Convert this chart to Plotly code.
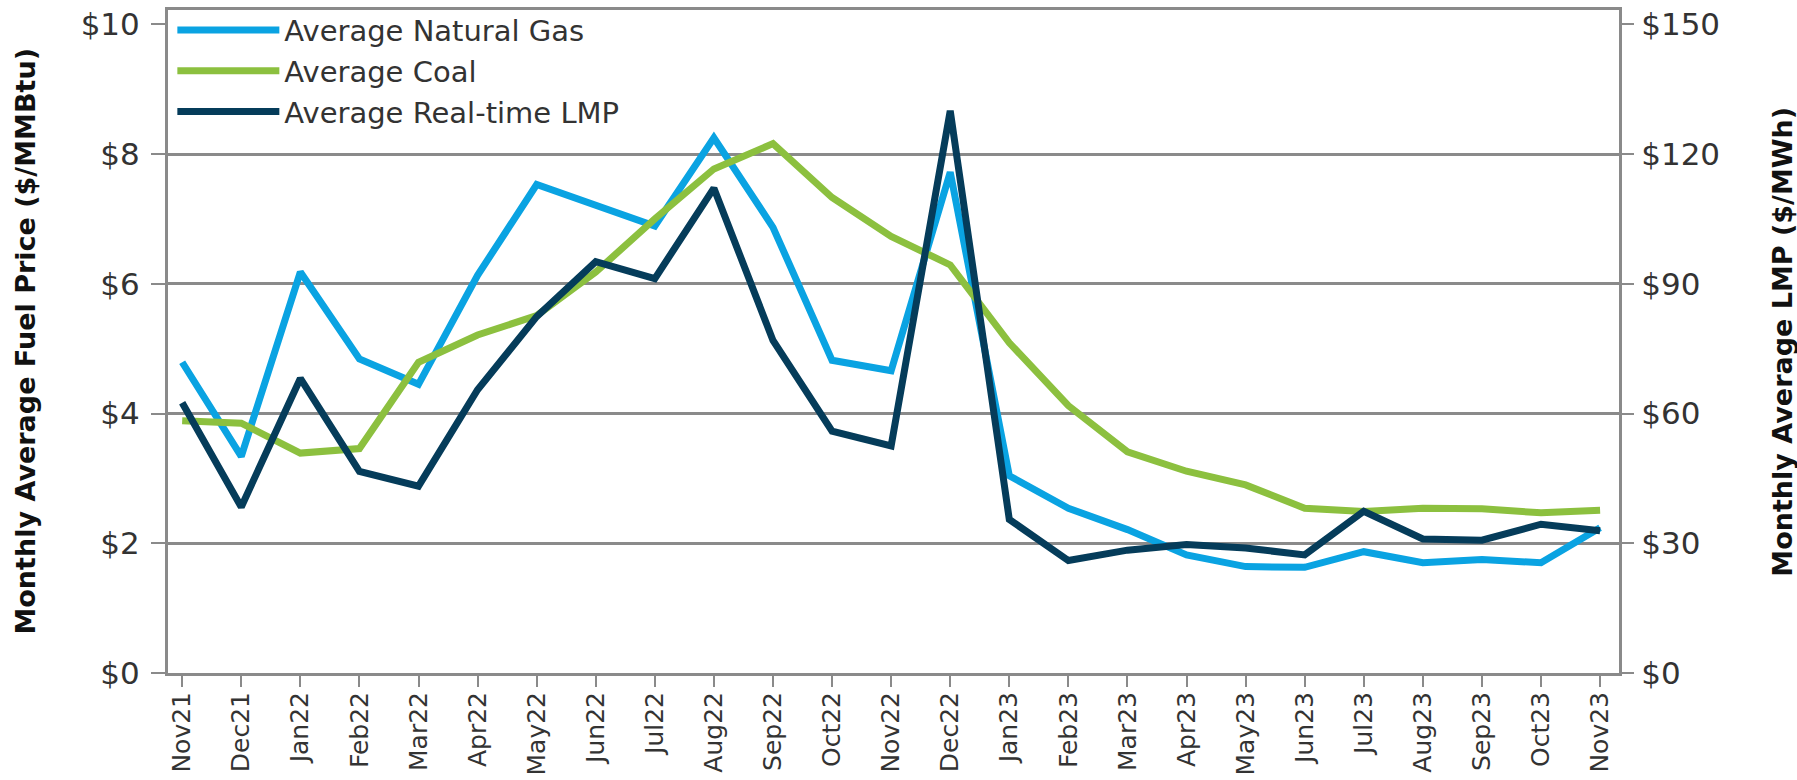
import plotly.graph_objects as go

months = ["Nov21", "Dec21", "Jan22", "Feb22", "Mar22", "Apr22", "May22", "Jun22", "Jul22",
          "Aug22", "Sep22", "Oct22", "Nov22", "Dec22", "Jan23", "Feb23", "Mar23", "Apr23",
          "May23", "Jun23", "Jul23", "Aug23", "Sep23", "Oct23", "Nov23"]

natural_gas = [4.79, 3.34, 6.18, 4.84, 4.45, 6.13, 7.53, 7.22, 6.89, 8.25, 6.87, 4.82, 4.66,
               7.72, 3.04, 2.54, 2.21, 1.82, 1.64, 1.63, 1.87, 1.70, 1.75, 1.70, 2.24]

coal = [3.89, 3.85, 3.39, 3.46, 4.79, 5.21, 5.51, 6.18, 7.00, 7.77, 8.16, 7.33, 6.73,
        6.29, 5.09, 4.12, 3.41, 3.11, 2.90, 2.54, 2.49, 2.54, 2.53, 2.47, 2.51]

lmp = [62.5, 38.4, 68.1, 46.6, 43.2, 65.5, 82.4, 95.1, 91.2, 112.1, 76.9, 55.9, 52.5,
       130.0, 35.5, 26.0, 28.4, 29.7, 28.9, 27.3, 37.4, 31.0, 30.7, 34.4, 32.9]

left_ticks = [0, 2, 4, 6, 8, 10]
left_labels = ["$0", "$2", "$4", "$6", "$8", "$10"]
right_ticks = [0, 30, 60, 90, 120, 150]
right_labels = ["$0", "$30", "$60", "$90", "$120", "$150"]

c_gas = "#0AA3E2"
c_coal = "#8CC03F"
c_lmp = "#053C5A"
grey = "#8a8a8a"
font = "DejaVu Sans"

fig = go.Figure()
fig.add_trace(go.Scatter(x=months, y=natural_gas, name="Average Natural Gas", mode="lines",
                         line=dict(color=c_gas, width=7), yaxis="y"))
fig.add_trace(go.Scatter(x=months, y=coal, name="Average Coal", mode="lines",
                         line=dict(color=c_coal, width=7), yaxis="y"))
fig.add_trace(go.Scatter(x=months, y=lmp, name="Average Real-time LMP", mode="lines",
                         line=dict(color=c_lmp, width=7), yaxis="y2"))

fig.update_layout(
    width=1797, height=780,
    margin=dict(l=168, r=178, t=10, b=107, autoexpand=False),
    paper_bgcolor="white", plot_bgcolor="white",
    font=dict(family=font, color="#333333"),
    showlegend=True,
    legend=dict(x=0.003, y=1.008, xanchor="left", yanchor="top", bgcolor="rgba(0,0,0,0)",
                font=dict(size=29, color="#333333", family=font), itemwidth=102,
                tracegroupgap=0),
    xaxis=dict(type="category", range=[-0.24, 24.32], tickangle=-90, automargin=False,
               tickfont=dict(size=25, color="#333333"), ticks="outside", ticklen=11,
               tickwidth=2, tickcolor=grey, ticklabelstandoff=-5,
               showline=True, linecolor=grey, linewidth=3,
               mirror=True, showgrid=False, zeroline=False),
    yaxis=dict(range=[0, 10.22], tickvals=left_ticks, ticktext=left_labels, automargin=False,
               tickfont=dict(size=31, color="#333333"), ticks="outside", ticklen=14,
               tickwidth=2, tickcolor=grey, ticklabelstandoff=5,
               showline=True, linecolor=grey, linewidth=3,
               mirror=True, showgrid=False, zeroline=False,
               minor=dict(tickvals=[2, 4, 6, 8], showgrid=True, gridcolor=grey,
                          gridwidth=2.5, ticks="")),
    yaxis2=dict(range=[0, 153.3], tickvals=right_ticks, ticktext=right_labels,
                overlaying="y", side="right", automargin=False,
                tickfont=dict(size=31, color="#333333"), ticks="outside", ticklen=14,
                tickwidth=2, tickcolor=grey, ticklabelstandoff=1,
                showline=False, showgrid=False, zeroline=False),
    annotations=[
        dict(text="<b>Monthly Average Fuel Price ($/MMBtu)</b>", xref="paper", yref="paper",
             x=-0.0985, y=0.5, xanchor="center", yanchor="middle", textangle=-90,
             showarrow=False, font=dict(size=27, color="#111111", family=font)),
        dict(text="<b>Monthly Average LMP ($/MWh)</b>", xref="paper", yref="paper",
             x=1.1125, y=0.5, xanchor="center", yanchor="middle", textangle=-90,
             showarrow=False, font=dict(size=27, color="#111111", family=font)),
    ],
)

fig.write_html("out.html", config={"displayModeBar": False},
               post_script="document.body.style.margin='0';document.body.style.overflow='hidden';")
